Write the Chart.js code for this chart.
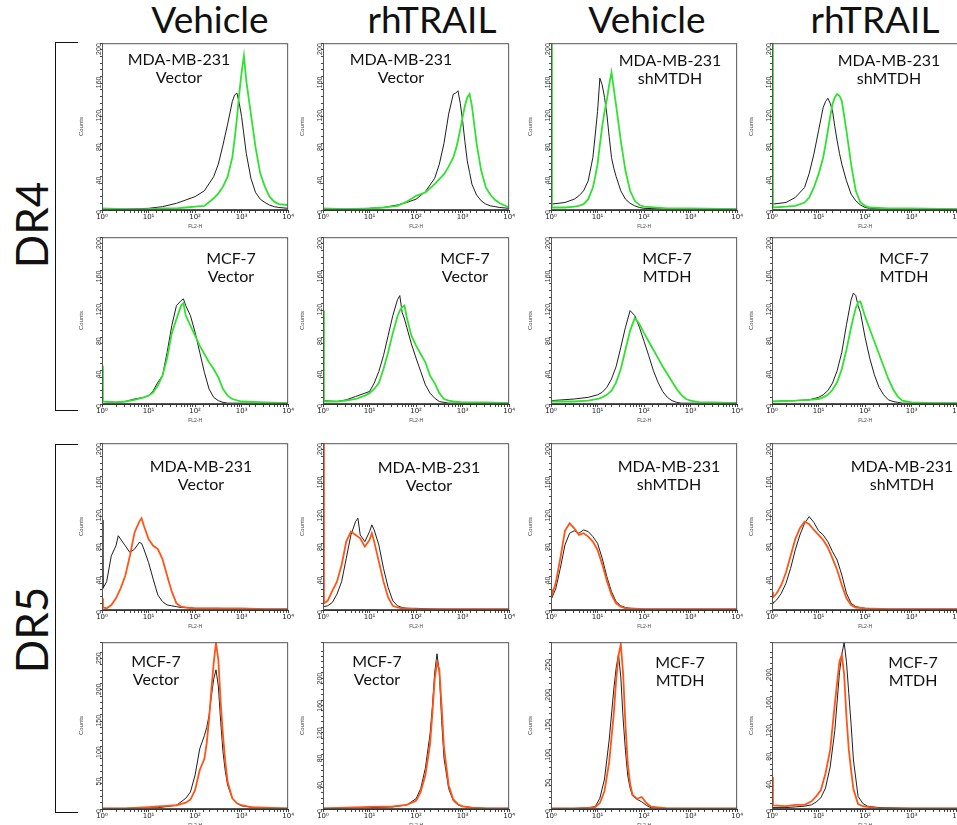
<!DOCTYPE html>
<html>
<head>
<meta charset="utf-8">
<script src="https://cdn.jsdelivr.net/npm/chart.js@4.4.0/dist/chart.umd.min.js"></script>
<style>
    body { margin: 0; width: 957px; height: 825px; overflow: hidden; background: #fff; position: relative; font-family: Lato, sans-serif; }
    .panel { position: absolute; }
    .title { position: absolute; font-size: 37px; line-height: 44px; color: #111; transform: translateX(-50%); white-space: nowrap; }
    .label { position: absolute; font-size: 16px; line-height: 18px; color: #111; text-align: center; transform: translateX(-50%); white-space: nowrap; }
    .group { position: absolute; font-size: 44px; color: #111; transform: translate(-50%, -50%) rotate(-90deg); }
    .bracket { position: absolute; border: 1.5px solid #111; border-right: none; width: 22px; }
</style>
</head>
<body>
<script>
// ================================================================== Data (x in decades, 10^x = FL2-H)
const columnTitles = ['Vehicle', 'rhTRAIL', 'Vehicle', 'rhTRAIL'];
const groupNames = ['DR4', 'DR5'];
const xTickLabels = ['10\u2070', '10\u00b9', '10\u00b2', '10\u00b3', '10\u2074'];

// DR4 - MDA-MB-231 Vector
const dr4MdaVecVehX = [0, 0.5, 1.0, 1.3, 1.6, 1.8, 2.0, 2.2, 2.4, 2.5, 2.6, 2.7, 2.8, 2.85, 2.9, 2.95, 3.0, 3.05, 3.1, 3.2, 3.3, 3.4, 3.5, 3.6, 3.7, 3.8, 4.0];
const dr4MdaVecVehCtrl = [1, 1, 2, 4, 8, 12, 16, 23, 40, 55, 78, 103, 130, 138, 140, 128, 112, 90, 68, 38, 21, 13, 9, 6, 4, 3, 2];
const dr4MdaVecVehStain = [2, 1, 1, 2, 2, 3, 4, 5, 14, 20, 28, 40, 63, 85, 110, 140, 165, 185, 155, 115, 75, 44, 28, 16, 10, 7, 6];

const dr4MdaVecTrX = [0, 0.5, 1.0, 1.3, 1.6, 1.8, 2.0, 2.2, 2.4, 2.5, 2.6, 2.7, 2.8, 2.85, 2.9, 2.95, 3.0, 3.05, 3.1, 3.15, 3.2, 3.3, 3.4, 3.5, 3.6, 3.7, 3.8, 4.0];
const dr4MdaVecTrCtrl = [1, 1, 2, 3, 6, 9, 13, 22, 38, 55, 80, 115, 139, 140, 143, 128, 107, 82, 59, 45, 31, 18, 11, 7, 5, 4, 3, 2];
const dr4MdaVecTrStain = [2, 1, 2, 3, 5, 10, 17, 21, 31, 37, 43, 52, 63, 72, 83, 97, 111, 125, 135, 139, 125, 80, 47, 27, 18, 12, 8, 3];

// DR4 - MDA-MB-231 shMTDH
const dr4MdaShVehX = [0, 0.02, 0.3, 0.5, 0.6, 0.7, 0.8, 0.9, 0.95, 1.0, 1.05, 1.1, 1.15, 1.2, 1.25, 1.3, 1.35, 1.4, 1.5, 1.6, 1.7, 1.8, 1.9, 2.0, 2.5, 3.0, 4.0];
const dr4MdaShVehCtrl = [7, 7, 9, 13, 17, 23, 35, 63, 90, 118, 158, 150, 135, 115, 88, 63, 50, 40, 23, 13, 8, 5, 3, 2, 1, 1, 1];
const dr4MdaShVehStain = [210, 3, 3, 4, 5, 7, 13, 27, 40, 55, 78, 100, 118, 132, 150, 165, 145, 125, 83, 47, 23, 11, 6, 4, 2, 2, 1];

const dr4MdaShTrX = [0, 0.02, 0.3, 0.5, 0.7, 0.8, 0.9, 1.0, 1.1, 1.15, 1.2, 1.25, 1.3, 1.35, 1.4, 1.45, 1.5, 1.6, 1.7, 1.8, 1.9, 2.0, 2.1, 2.5, 3.0, 4.0];
const dr4MdaShTrCtrl = [7, 7, 9, 15, 27, 44, 67, 95, 123, 130, 134, 128, 119, 100, 83, 68, 55, 35, 19, 11, 6, 3, 2, 1, 1, 1];
const dr4MdaShTrStain = [210, 3, 4, 5, 9, 15, 27, 43, 63, 78, 95, 112, 127, 135, 139, 137, 131, 95, 55, 23, 9, 5, 3, 2, 2, 1];

// DR4 - MCF-7 Vector
const dr4McfVecVehX = [0, 0.02, 0.3, 0.5, 0.7, 0.9, 1.0, 1.1, 1.2, 1.3, 1.4, 1.5, 1.6, 1.7, 1.75, 1.8, 1.9, 2.0, 2.1, 2.2, 2.3, 2.4, 2.5, 2.6, 2.7, 2.8, 3.0, 3.5, 4.0];
const dr4McfVecVehCtrl = [3, 3, 2, 3, 6, 8, 10, 16, 26, 34, 62, 94, 118, 124, 126, 118, 106, 86, 62, 38, 18, 8, 4, 2, 1, 1, 1, 1, 1];
const dr4McfVecVehStain = [46, 3, 2, 3, 5, 8, 10, 14, 22, 34, 55, 85, 102, 118, 121, 106, 94, 82, 70, 60, 50, 42, 32, 18, 10, 6, 3, 2, 1];

const dr4McfVecTrX = [0, 0.02, 0.3, 0.5, 0.7, 0.9, 1.0, 1.1, 1.2, 1.3, 1.4, 1.5, 1.6, 1.65, 1.7, 1.75, 1.8, 1.9, 2.0, 2.1, 2.2, 2.3, 2.4, 2.5, 2.6, 2.7, 2.8, 3.0, 3.5, 4.0];
const dr4McfVecTrCtrl = [4, 4, 3, 5, 9, 13, 15, 25, 39, 58, 82, 106, 125, 130, 110, 102, 92, 72, 55, 39, 23, 13, 7, 3, 2, 1, 1, 1, 1, 1];
const dr4McfVecTrStain = [112, 3, 3, 4, 6, 10, 13, 18, 25, 42, 62, 85, 105, 112, 116, 118, 104, 82, 70, 60, 50, 34, 25, 13, 6, 4, 3, 2, 2, 1];

// DR4 - MCF-7 MTDH
const dr4McfMtVehX = [0, 0.5, 0.8, 1.0, 1.1, 1.2, 1.3, 1.4, 1.5, 1.6, 1.7, 1.8, 1.9, 2.0, 2.1, 2.2, 2.3, 2.4, 2.5, 2.6, 2.7, 2.8, 2.9, 3.0, 3.2, 3.5, 4.0];
const dr4McfMtVehCtrl = [4, 6, 8, 11, 14, 20, 30, 45, 68, 92, 112, 106, 92, 75, 58, 40, 26, 15, 8, 4, 2, 1, 1, 1, 1, 1, 1];
const dr4McfMtVehStain = [3, 3, 4, 6, 8, 11, 16, 26, 42, 65, 88, 103, 96, 85, 75, 65, 55, 45, 36, 27, 18, 11, 6, 4, 2, 2, 1];

const dr4McfMtTrX = [0, 0.5, 0.8, 1.0, 1.1, 1.2, 1.3, 1.4, 1.5, 1.6, 1.7, 1.75, 1.8, 1.85, 1.9, 2.0, 2.1, 2.2, 2.3, 2.4, 2.5, 2.6, 2.7, 2.8, 3.0, 3.5, 4.0];
const dr4McfMtTrCtrl = [3, 4, 5, 8, 11, 16, 25, 40, 62, 95, 125, 133, 130, 118, 110, 80, 55, 35, 20, 11, 5, 3, 2, 1, 1, 1, 1];
const dr4McfMtTrStain = [3, 4, 5, 6, 8, 11, 17, 26, 42, 65, 92, 104, 115, 122, 123, 105, 90, 75, 60, 45, 30, 18, 9, 4, 2, 1, 1];

// DR5 - MDA-MB-231 Vector
const dr5MdaVecVehX = [0, 0.02, 0.1, 0.2, 0.3, 0.35, 0.4, 0.5, 0.6, 0.7, 0.8, 0.85, 0.9, 1.0, 1.1, 1.2, 1.3, 1.4, 1.5, 1.6, 1.7, 1.8, 2.0, 2.5, 3.0, 3.5, 4.0];
const dr5MdaVecVehCtrl = [108, 26, 34, 65, 77, 89, 85, 77, 69, 73, 81, 80, 73, 57, 37, 18, 10, 6, 5, 4, 3, 3, 2, 2, 1, 1, 1];
const dr5MdaVecVehStain = [14, 3, 2, 6, 14, 20, 26, 41, 65, 93, 106, 110, 101, 85, 77, 73, 61, 41, 22, 8, 4, 3, 2, 2, 2, 1, 1];

const dr5MdaVecTrX = [0, 0.02, 0.1, 0.2, 0.3, 0.4, 0.5, 0.6, 0.7, 0.75, 0.8, 0.9, 1.0, 1.05, 1.1, 1.2, 1.3, 1.4, 1.5, 1.6, 1.7, 1.8, 2.0, 2.5, 3.0, 4.0];
const dr5MdaVecTrCtrl = [4, 4, 5, 9, 19, 34, 62, 90, 106, 110, 90, 82, 94, 102, 96, 78, 50, 27, 11, 5, 3, 2, 2, 1, 1, 1];
const dr5MdaVecTrStain = [210, 8, 11, 23, 34, 54, 82, 94, 90, 88, 86, 76, 84, 92, 82, 58, 34, 15, 5, 3, 2, 2, 1, 1, 1, 1];

// DR5 - MDA-MB-231 shMTDH
const dr5MdaShVehX = [0, 0.02, 0.1, 0.2, 0.3, 0.4, 0.5, 0.6, 0.7, 0.8, 0.9, 1.0, 1.1, 1.2, 1.3, 1.4, 1.5, 1.6, 1.7, 2.0, 2.5, 3.0, 4.0];
const dr5MdaShVehCtrl = [20, 15, 25, 50, 78, 92, 95, 92, 96, 94, 88, 80, 62, 40, 22, 10, 5, 3, 2, 1, 1, 1, 1];
const dr5MdaShVehStain = [25, 18, 32, 62, 95, 104, 98, 90, 92, 88, 82, 72, 55, 35, 18, 8, 4, 2, 2, 1, 1, 1, 1];

const dr5MdaShTrX = [0, 0.02, 0.1, 0.2, 0.3, 0.4, 0.5, 0.6, 0.7, 0.8, 0.9, 1.0, 1.1, 1.2, 1.3, 1.4, 1.5, 1.6, 1.7, 1.8, 2.0, 2.5, 3.0, 4.0];
const dr5MdaShTrCtrl = [10, 8, 12, 20, 32, 50, 72, 90, 104, 112, 105, 95, 90, 82, 70, 60, 42, 20, 8, 4, 2, 1, 1, 1];
const dr5MdaShTrStain = [22, 15, 20, 30, 45, 65, 85, 98, 106, 103, 96, 90, 84, 75, 62, 48, 30, 14, 6, 3, 2, 1, 1, 1];

// DR5 - MCF-7 Vector
const dr5McfVecVehX = [0, 0.5, 1.0, 1.2, 1.4, 1.6, 1.8, 1.9, 2.0, 2.1, 2.2, 2.25, 2.3, 2.35, 2.4, 2.45, 2.5, 2.55, 2.6, 2.65, 2.7, 2.8, 2.9, 3.0, 3.2, 3.5, 4.0];
const dr5McfVecVehCtrl = [1, 1, 2, 2, 4, 6, 17, 27, 54, 96, 117, 130, 149, 180, 207, 222, 196, 140, 91, 60, 38, 17, 9, 5, 3, 1, 1];
const dr5McfVecVehStain = [1, 1, 3, 4, 5, 6, 10, 15, 30, 62, 80, 105, 143, 190, 233, 265, 238, 170, 117, 75, 43, 17, 9, 6, 3, 2, 1];

const dr5McfVecTrX = [0, 0.5, 1.0, 1.5, 1.8, 2.0, 2.1, 2.2, 2.3, 2.35, 2.4, 2.45, 2.5, 2.55, 2.6, 2.7, 2.8, 2.9, 3.0, 3.2, 3.5, 4.0];
const dr5McfVecTrCtrl = [1, 1, 2, 3, 6, 15, 30, 60, 110, 150, 200, 228, 200, 130, 75, 30, 12, 6, 4, 2, 1, 1];
const dr5McfVecTrStain = [1, 2, 3, 4, 6, 12, 25, 50, 95, 140, 190, 215, 205, 150, 90, 35, 14, 7, 4, 2, 1, 1];

// DR5 - MCF-7 MTDH
const dr5McfMtVehX = [0, 0.5, 0.8, 0.95, 1.05, 1.15, 1.25, 1.35, 1.4, 1.45, 1.5, 1.55, 1.6, 1.65, 1.7, 1.75, 1.85, 1.95, 2.05, 2.15, 2.5, 3.0, 4.0];
const dr5McfMtVehCtrl = [1, 1, 2, 4, 18, 50, 115, 200, 235, 258, 220, 150, 97, 55, 35, 22, 16, 12, 6, 2, 1, 1, 1];
const dr5McfMtVehStain = [1, 1, 2, 3, 10, 30, 78, 160, 215, 255, 275, 225, 140, 75, 42, 24, 17, 20, 10, 4, 1, 1, 1];

const dr5McfMtTrX = [0, 0.02, 0.3, 0.5, 0.7, 0.85, 0.95, 1.05, 1.15, 1.25, 1.35, 1.45, 1.5, 1.55, 1.6, 1.65, 1.7, 1.75, 1.85, 1.95, 2.05, 2.3, 3.0, 4.0];
const dr5McfMtTrCtrl = [2, 2, 2, 3, 4, 6, 10, 16, 30, 60, 112, 195, 220, 238, 210, 165, 120, 70, 18, 8, 4, 2, 1, 1];
const dr5McfMtTrStain = [46, 5, 4, 6, 6, 11, 18, 27, 51, 84, 150, 211, 220, 192, 131, 85, 55, 28, 7, 4, 3, 1, 1, 1];

// ================================================================== Layout
const colLeft = [102, 323, 551, 772];
const rowTop = [42, 236, 442, 641];
const plotW = 188;
const plotH = 168;
const padL = 24, padT = 4, padR = 4, padB = 20;

const green = '#2fe22f';
const orange = '#ff5516';
const black = '#1e1e1e';

const panels = [
    { row: 0, col: 0, x: dr4MdaVecVehX, ctrl: dr4MdaVecVehCtrl, stain: dr4MdaVecVehStain, color: green, yMax: 200, yStep: 40, text: ['MDA-MB-231', 'Vector'], at: [179, 59] },
    { row: 0, col: 1, x: dr4MdaVecTrX, ctrl: dr4MdaVecTrCtrl, stain: dr4MdaVecTrStain, color: green, yMax: 200, yStep: 40, text: ['MDA-MB-231', 'Vector'], at: [401, 59] },
    { row: 0, col: 2, x: dr4MdaShVehX, ctrl: dr4MdaShVehCtrl, stain: dr4MdaShVehStain, color: green, yMax: 200, yStep: 40, text: ['MDA-MB-231', 'shMTDH'], at: [670, 60] },
    { row: 0, col: 3, x: dr4MdaShTrX, ctrl: dr4MdaShTrCtrl, stain: dr4MdaShTrStain, color: green, yMax: 200, yStep: 40, text: ['MDA-MB-231', 'shMTDH'], at: [889, 60] },
    { row: 1, col: 0, x: dr4McfVecVehX, ctrl: dr4McfVecVehCtrl, stain: dr4McfVecVehStain, color: green, yMax: 200, yStep: 40, text: ['MCF-7', 'Vector'], at: [231, 258] },
    { row: 1, col: 1, x: dr4McfVecTrX, ctrl: dr4McfVecTrCtrl, stain: dr4McfVecTrStain, color: green, yMax: 200, yStep: 40, text: ['MCF-7', 'Vector'], at: [465, 258] },
    { row: 1, col: 2, x: dr4McfMtVehX, ctrl: dr4McfMtVehCtrl, stain: dr4McfMtVehStain, color: green, yMax: 200, yStep: 40, text: ['MCF-7', 'MTDH'], at: [667, 258] },
    { row: 1, col: 3, x: dr4McfMtTrX, ctrl: dr4McfMtTrCtrl, stain: dr4McfMtTrStain, color: green, yMax: 200, yStep: 40, text: ['MCF-7', 'MTDH'], at: [904, 258] },
    { row: 2, col: 0, x: dr5MdaVecVehX, ctrl: dr5MdaVecVehCtrl, stain: dr5MdaVecVehStain, color: orange, yMax: 200, yStep: 40, text: ['MDA-MB-231', 'Vector'], at: [201, 466] },
    { row: 2, col: 1, x: dr5MdaVecTrX, ctrl: dr5MdaVecTrCtrl, stain: dr5MdaVecTrStain, color: orange, yMax: 200, yStep: 40, text: ['MDA-MB-231', 'Vector'], at: [429, 467] },
    { row: 2, col: 2, x: dr5MdaShVehX, ctrl: dr5MdaShVehCtrl, stain: dr5MdaShVehStain, color: orange, yMax: 200, yStep: 40, text: ['MDA-MB-231', 'shMTDH'], at: [669, 466] },
    { row: 2, col: 3, x: dr5MdaShTrX, ctrl: dr5MdaShTrCtrl, stain: dr5MdaShTrStain, color: orange, yMax: 200, yStep: 40, text: ['MDA-MB-231', 'shMTDH'], at: [902, 466] },
    { row: 3, col: 0, x: dr5McfVecVehX, ctrl: dr5McfVecVehCtrl, stain: dr5McfVecVehStain, color: orange, yMax: 266, yStep: 50, text: ['MCF-7', 'Vector'], at: [156, 661] },
    { row: 3, col: 1, x: dr5McfVecTrX, ctrl: dr5McfVecTrCtrl, stain: dr5McfVecTrStain, color: orange, yMax: 245, yStep: 40, text: ['MCF-7', 'Vector'], at: [377, 661] },
    { row: 3, col: 2, x: dr5McfMtVehX, ctrl: dr5McfMtVehCtrl, stain: dr5McfMtVehStain, color: orange, yMax: 278, yStep: 50, text: ['MCF-7', 'MTDH'], at: [680, 662] },
    { row: 3, col: 3, x: dr5McfMtTrX, ctrl: dr5McfMtTrCtrl, stain: dr5McfMtTrStain, color: orange, yMax: 238, yStep: 40, text: ['MCF-7', 'MTDH'], at: [913, 662] }
];

// ================================================================== Plugin: frame round plot area
const framePlugin = {
    id: 'frame',
    afterDraw(chart) {
        let a = chart.chartArea;
        let ctx = chart.ctx;
        ctx.save();
        ctx.strokeStyle = '#555';
        ctx.lineWidth = 1;
        ctx.strokeRect(a.left + 0.5, a.top + 0.5, a.right - a.left - 1, a.bottom - a.top - 1);
        ctx.restore();
    }
};

function toPoints(xs, ys) {
    return xs.map((d, i) => ({ x: Math.pow(10, d), y: ys[i] }));
}

function xLabel(value) {
    let e = Math.log10(value);
    let r = Math.round(e);
    if (Math.abs(e - r) < 1e-6) {
        return xTickLabels[r];
    }
    return '';
}

// ================================================================== Panels
function makePanel(p) {
    let box = document.createElement('div');
    box.className = 'panel';
    box.style.left = (colLeft[p.col] - padL) + 'px';
    box.style.top = (rowTop[p.row] - padT) + 'px';
    let canvas = document.createElement('canvas');
    canvas.width = plotW + padL + padR;
    canvas.height = plotH + padT + padB;
    box.appendChild(canvas);
    document.body.appendChild(box);

    let minor = p.yStep / 5;
    new Chart(canvas, {
        type: 'line',
        data: {
            datasets: [
                { data: toPoints(p.x, p.stain), borderColor: p.color, borderWidth: 1.8, pointRadius: 0, tension: 0, fill: false },
                { data: toPoints(p.x, p.ctrl), borderColor: black, borderWidth: 1, pointRadius: 0, tension: 0, fill: false }
            ]
        },
        options: {
            responsive: false,
            animation: false,
            devicePixelRatio: 1,
            layout: { padding: { top: padT, right: padR, left: 0, bottom: 0 } },
            plugins: { legend: { display: false }, tooltip: { enabled: false } },
            scales: {
                x: {
                    type: 'logarithmic',
                    min: 1,
                    max: 10000,
                    afterFit: (s) => { s.height = padB; },
                    border: { color: '#333' },
                    grid: { drawOnChartArea: false, tickLength: 3, color: '#444' },
                    ticks: {
                        autoSkip: false, maxRotation: 0, minRotation: 0, padding: 0,
                        color: '#222', font: { family: 'DejaVu Sans', size: 7 },
                        callback: (v) => xLabel(v)
                    },
                    title: { display: true, text: 'FL2-H', color: '#444', font: { family: 'Liberation Sans', size: 5 }, padding: 0 }
                },
                y: {
                    min: 0,
                    max: p.yMax,
                    afterFit: (s) => { s.width = padL; },
                    border: { color: '#333' },
                    grid: { drawOnChartArea: false, tickLength: 2, color: '#444' },
                    ticks: {
                        stepSize: minor, autoSkip: false, minRotation: 90, maxRotation: 90, padding: 1,
                        color: '#333', font: { family: 'Liberation Sans', size: 7 },
                        callback: (v) => (v % p.yStep === 0 ? v : '')
                    },
                    title: { display: true, text: 'Counts', color: '#444', font: { family: 'Liberation Sans', size: 6 }, padding: 0 }
                }
            }
        },
        plugins: [framePlugin]
    });

    let label = document.createElement('div');
    label.className = 'label';
    label.style.left = p.at[0] + 'px';
    label.style.top = (p.at[1] - 9) + 'px';
    label.innerHTML = p.text[0] + '<br>' + p.text[1];
    document.body.appendChild(label);
}

// ================================================================== Titles / brackets
function addText(cls, text, left, top) {
    let el = document.createElement('div');
    el.className = cls;
    el.style.left = left + 'px';
    el.style.top = top + 'px';
    el.textContent = text;
    document.body.appendChild(el);
}

function addBracket(top, height) {
    let el = document.createElement('div');
    el.className = 'bracket';
    el.style.left = '55px';
    el.style.top = top + 'px';
    el.style.height = height + 'px';
    document.body.appendChild(el);
}

const titleCenters = [210, 432, 647, 875];
columnTitles.forEach((t, i) => addText('title', t, titleCenters[i], -3));
addText('group', groupNames[0], 31, 225);
addText('group', groupNames[1], 31, 630);
addBracket(42, 367);
addBracket(444, 367);

panels.forEach(makePanel);
</script>
</body>
</html>
